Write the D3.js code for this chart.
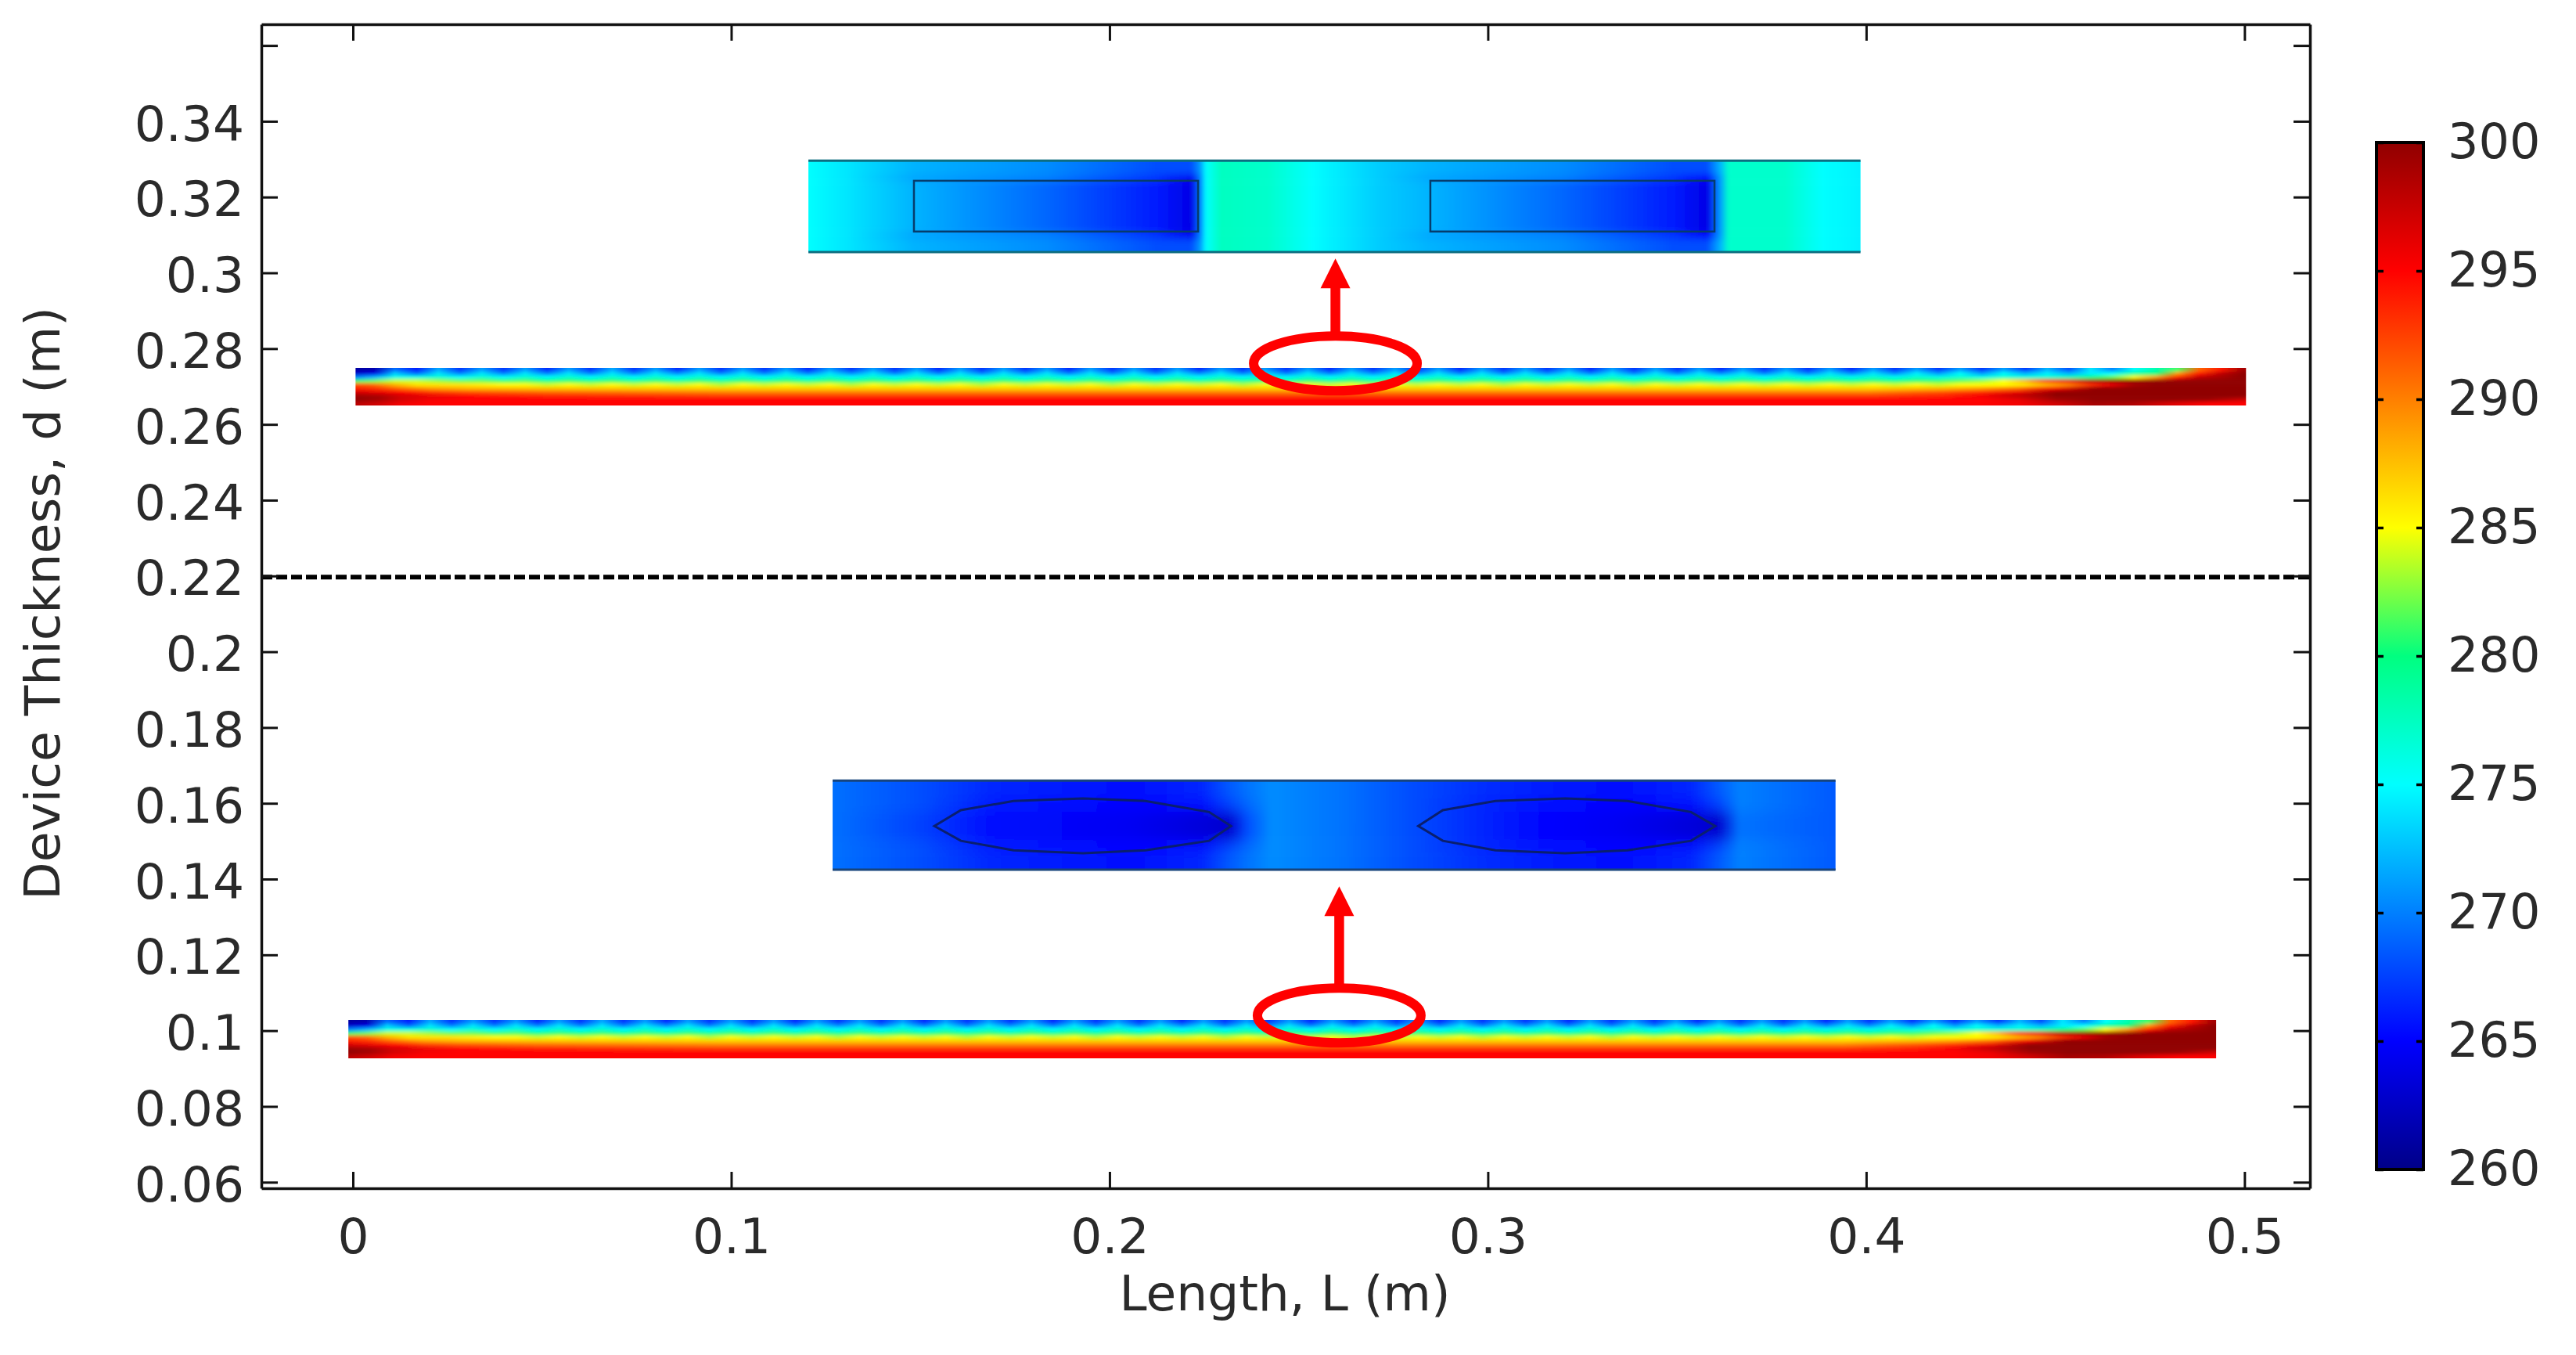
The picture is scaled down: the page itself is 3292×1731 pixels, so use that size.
<!DOCTYPE html>
<html>
<head>
<meta charset="utf-8">
<script src="https://cdn.jsdelivr.net/npm/d3@7"></script>
<style>
    html, body { margin: 0; padding: 0; background: #fff; }
    svg { display: block; }
    text { font-family: "DejaVu Sans", sans-serif; fill: #2a2a2a; }
</style>
</head>
<body>
<script>
// axis ticks
const xTicks = [0, 0.1, 0.2, 0.3, 0.4, 0.5];
const yTicks = [0.06, 0.08, 0.1, 0.12, 0.14, 0.16, 0.18, 0.2, 0.22, 0.24, 0.26, 0.28, 0.3, 0.32, 0.34, 0.36];
const yTickLabels = ["0.06", "0.08", "0.1", "0.12", "0.14", "0.16", "0.18", "0.2", "0.22", "0.24", "0.26", "0.28", "0.3", "0.32", "0.34", ""];
const barTicks = [260, 265, 270, 275, 280, 285, 290, 295, 300];

// colour table of the temperature bar
const jetTemps = [260, 265, 275, 280, 285, 295, 300];
const jetColors = ["#000088", "#0000ff", "#00ffff", "#00ff80", "#ffff00", "#ff0000", "#900000"];

// strip, temperature along the length. Upper rows have the mesh sawtooth, so two values per mesh cell
const sawStep = 0.00575;
const row0 = [261, 261.5, 269, 266, 271.5, 267, 271, 267, 271, 266.5, 271, 267, 271.5, 267, 271, 266.5, 271, 267, 271, 267,
    271, 266.5, 271, 267, 271, 267, 271, 266.5, 271, 267, 271, 267, 271, 266.5, 271, 267, 271, 267, 271, 266.5,
    271, 267, 271, 267, 271, 266.5, 271, 267, 271, 267, 271, 266.5, 271, 267, 271, 267, 271, 266.5, 271, 267,
    271, 267, 271, 266.5, 271, 267, 271, 267, 271, 266.5, 271, 267, 271, 267, 271, 267, 271, 267, 272, 268,
    274, 270, 275, 278, 281, 291, 294, 299];
const row1 = [263, 264, 273, 269, 274, 270, 274, 270, 274, 270, 274, 270, 274, 270, 274, 270.5, 274, 270, 274, 270,
    274, 270, 274, 270.5, 274, 270, 274, 270, 274, 270, 274, 270.5, 274, 270, 274, 270, 274, 270, 274, 270.5,
    274, 270, 274, 270, 274, 270, 274, 270.5, 274, 270, 274, 270, 274, 270, 274, 270.5, 274, 270, 274, 270,
    274, 270, 274, 270.5, 274, 270, 274, 270, 274, 270.5, 274, 270.5, 274.5, 271, 275, 271, 275, 272, 274.5, 272,
    274.5, 275, 279, 280, 289, 294, 298, 300];
const row2 = [270, 272, 276, 276, 277, 275, 277, 275, 277, 275, 277, 275, 277, 275, 277, 275, 277, 275, 277, 275,
    277, 275, 277, 275, 277, 275, 277, 275, 277, 275, 277, 275, 277, 275, 277, 275, 277, 275, 277, 275,
    277, 275, 277, 275, 277, 275, 277, 275, 277, 275, 277, 275, 277, 275, 277, 275, 277, 275, 277, 275,
    277, 275, 277, 275, 277, 275, 277, 275, 277, 275.5, 277, 275.5, 277, 276, 277, 276, 277, 276.5, 277, 278,
    280, 282, 285, 289, 294, 298, 299, 300];
const row3 = [281, 282, 284, 284, 283, 282, 282, 281, 281.5, 280, 281, 280, 281, 279.5, 281, 279.5, 281, 279.5, 281, 279.5,
    281, 279.5, 281, 279.5, 281, 279.5, 281, 279.5, 281, 279.5, 281, 279.5, 281, 279.5, 281, 279.5, 281, 279.5, 281, 279.5,
    281, 279.5, 281, 279.5, 281, 279.5, 281, 279.5, 281, 279.5, 281, 279.5, 281, 279.5, 281, 279.5, 281, 279.5, 281, 279.5,
    281, 279.5, 281, 279.5, 281, 279.5, 281, 280, 281, 280, 281, 280, 281, 281, 282, 283,
    285, 288, 293, 296, 299, 300, 300, 300];
const row4 = [292, 291, 288, 286, 286, 286, 285.5, 285, 285, 284, 285, 284, 285, 284, 285, 284, 285, 283.5, 285, 284,
    285, 284, 285, 283.5, 285, 284, 285, 284, 285, 283.5, 285, 284, 285, 284, 285, 283.5, 285, 284, 285, 284,
    285, 283.5, 285, 284, 285, 284, 285, 283.5, 285, 284, 285, 284, 285, 283.5, 285, 284, 285, 284, 285, 283.5,
    285, 284, 285, 284, 285, 284, 285, 284, 285, 284, 285, 284, 285, 284, 285, 285, 285, 286, 288, 290,
    293, 296, 299, 300, 300, 300, 300, 300];

// lower rows of the strip change slowly, they are read at these lengths
const coarsePos = [0, 0.006, 0.012, 0.02, 0.03, 0.05, 0.1, 0.2, 0.3, 0.4, 0.42, 0.43, 0.44, 0.45, 0.46, 0.47, 0.48, 0.49, 0.5];
const row5 = [294, 293, 291, 289, 288, 287.5, 287, 287, 287, 287, 288, 289, 291, 295.5, 300, 300, 300, 300, 300];
const row6 = [297, 296, 295, 293, 292, 291, 290, 290, 290, 290, 292, 293.5, 296, 300, 300, 300, 300, 300, 300];
const row7 = [299.5, 299, 297, 296, 295, 294, 293, 293, 293, 293, 294, 295.5, 298, 300, 300, 300, 300, 300, 300];
const row8 = [300, 299, 297, 295.5, 295, 295, 295, 295, 295, 295, 295, 295, 296, 299, 300, 300, 300, 299.5, 297];
const row9 = [298, 297, 295.5, 295, 295, 295, 295, 295, 295, 295, 295, 295, 295.5, 297, 299, 298.5, 296.5, 295, 295];

// zoomed views. Temperature along the length, per band of the view
const topViewPos = [0.1204, 0.1307, 0.1483, 0.1835, 0.2126, 0.2215, 0.2240, 0.2255, 0.2294, 0.242, 0.2536,
    0.2712, 0.2848, 0.32, 0.3493, 0.3578, 0.3614, 0.3636, 0.3785, 0.3884, 0.3985];
const topViewOuter = [275, 274, 272, 270.5, 268, 268, 271, 275, 277.5, 277, 275, 273, 272, 270.5, 268, 268, 272, 277, 277, 275, 274.5];
const topViewNear = [275, 274, 271.5, 270, 267, 264.5, 270, 275, 277.5, 277, 275, 273, 271.5, 270, 267, 265, 271, 277, 277, 275, 274.5];
const topViewInner = [275, 274, 272, 269, 266, 264, 270, 275, 277.5, 277, 275, 273, 272, 269, 266, 264, 271, 277, 277, 275, 274.5];

const lowViewPos = [0.1268, 0.1505, 0.169, 0.2058, 0.2244, 0.2316, 0.2364, 0.2428, 0.2612, 0.2798, 0.2982,
    0.3166, 0.3351, 0.3537, 0.3609, 0.3665, 0.3919];
const lowViewOuter = [269.4, 268, 266.5, 265.5, 266.5, 268.5, 269.5, 270.5, 269.5, 268, 266.8, 266, 265.5, 266.5, 268.5, 270, 268.5];
const lowViewNear = [269.4, 268, 266, 265, 265.5, 267.5, 269, 270.5, 269.5, 268, 266.5, 265.5, 265, 265.5, 267.5, 270, 268.5];
const lowViewInner = [269.4, 267.5, 265.5, 264.5, 263.5, 263, 268, 270.5, 269.5, 268, 266.5, 265, 264.5, 263.5, 263, 269.5, 268.5];

// the two solid shapes drawn inside the zoomed views
const rectLeftX = [0.1483, 0.2234];
const rectRightX = [0.2848, 0.3599];
const rectY = [0.3243, 0.3109];
const lensLeftX = [0.1537, 0.1607, 0.1746, 0.193, 0.2095, 0.2263, 0.2321, 0.2263, 0.2095, 0.193, 0.1746, 0.1607];
const lensRightX = [0.2816, 0.2881, 0.302, 0.3204, 0.3369, 0.3537, 0.3601, 0.3537, 0.3369, 0.3204, 0.302, 0.2881];
const lensY = [0.154, 0.1582, 0.1606, 0.1613, 0.1606, 0.1577, 0.154, 0.1501, 0.1476, 0.1468, 0.1476, 0.1501];

const width = 3292;
const height = 1731;

const x = d3.scaleLinear().domain([-0.0242, 0.5173]).range([334, 2952]);
const y = d3.scaleLinear().domain([0.0584, 0.3656]).range([1518, 31]);
const barY = d3.scaleLinear().domain([260, 300]).range([1494, 182]);
const color = d3.scaleLinear().domain(jetTemps).range(jetColors);

const svg = d3.select("body").append("svg")
    .attr("width", width)
    .attr("height", height)
    .attr("viewBox", "0 0 " + width + " " + height);
const defs = svg.append("defs");

const sawPos = d3.range(row0.length).map(i => i * sawStep - 0.0011);
const stripRows = [
    [sawPos, row0], [sawPos, row1], [sawPos, row2], [sawPos, row3], [sawPos, row4],
    [coarsePos, row5], [coarsePos, row6], [coarsePos, row7], [coarsePos, row8], [coarsePos, row9]
];
const stripEdges = d3.range(stripRows.length + 1).map(i => i / stripRows.length);

// every band of a field is one rect with a horizontal gradient, the bands are blurred together
function drawField(id, box, posDomain, rows, edges, blur) {
    let left = x(box.x0), right = x(box.x1), top = y(box.top), bottom = y(box.bottom);
    let along = d3.scaleLinear().domain(posDomain).range([0, 1]);
    let rowY = d3.scaleLinear().domain([0, 1]).range([top, bottom]);

    defs.append("clipPath").attr("id", id + "-clip")
        .append("rect")
        .attr("x", left).attr("y", top)
        .attr("width", right - left).attr("height", bottom - top);
    defs.append("filter").attr("id", id + "-blur")
        .attr("filterUnits", "userSpaceOnUse")
        .attr("x", left - 40).attr("y", top - 40)
        .attr("width", right - left + 80).attr("height", bottom - top + 80)
        .append("feGaussianBlur").attr("stdDeviation", blur);

    let group = svg.append("g").attr("clip-path", "url(#" + id + "-clip)")
        .append("g").attr("filter", "url(#" + id + "-blur)");

    rows.forEach((row, i) => {
        let grad = defs.append("linearGradient").attr("id", id + "-row" + i)
            .attr("gradientUnits", "userSpaceOnUse")
            .attr("x1", left).attr("x2", right).attr("y1", 0).attr("y2", 0);
        grad.selectAll("stop").data(row[1]).join("stop")
            .attr("offset", (d, j) => Math.min(1, Math.max(0, along(row[0][j]))))
            .attr("stop-color", d => color(d));
        let y0 = i === 0 ? top - 30 : rowY(edges[i]);
        let y1 = i === rows.length - 1 ? bottom + 30 : rowY(edges[i + 1]) + 0.5;
        group.append("rect")
            .attr("x", left - 30).attr("y", y0)
            .attr("width", right - left + 60).attr("height", y1 - y0)
            .attr("fill", "url(#" + id + "-row" + i + ")");
    });
}

drawField("strip-top", {x0: 0.0007, x1: 0.5004, top: 0.2749, bottom: 0.265}, [0, 0.5], stripRows, stripEdges, "1 2");
drawField("strip-low", {x0: -0.0012, x1: 0.4925, top: 0.1028, bottom: 0.0927}, [0, 0.5], stripRows, stripEdges, "1 2");

const topBox = {x0: 0.1204, x1: 0.3985, top: 0.3296, bottom: 0.3055};
drawField("view-top", topBox, [topBox.x0, topBox.x1],
    [[topViewPos, topViewOuter], [topViewPos, topViewNear], [topViewPos, topViewInner], [topViewPos, topViewNear], [topViewPos, topViewOuter]],
    [0, 0.15, 0.23, 0.78, 0.86, 1], "2.5 5");

const lowBox = {x0: 0.1268, x1: 0.3919, top: 0.1660, bottom: 0.1425};
drawField("view-low", lowBox, [lowBox.x0, lowBox.x1],
    [[lowViewPos, lowViewOuter], [lowViewPos, lowViewNear], [lowViewPos, lowViewInner], [lowViewPos, lowViewNear], [lowViewPos, lowViewOuter]],
    [0, 0.2, 0.35, 0.67, 0.8, 1], "4 8");

// edge lines of the zoomed views
[[topBox, "#0d6d80"], [lowBox, "#17447c"]].forEach(([box, stroke]) => {
    [box.top, box.bottom].forEach(v => {
        svg.append("line")
            .attr("x1", x(box.x0)).attr("x2", x(box.x1))
            .attr("y1", y(v)).attr("y2", y(v))
            .attr("stroke", stroke).attr("stroke-width", 3);
    });
});

// rectangles and lens shapes
[rectLeftX, rectRightX].forEach(d => {
    svg.append("rect")
        .attr("x", x(d[0])).attr("y", y(rectY[0]))
        .attr("width", x(d[1]) - x(d[0])).attr("height", y(rectY[1]) - y(rectY[0]))
        .attr("fill", "none").attr("stroke", "#063c6c").attr("stroke-width", 2.5);
});
const lensLine = d3.line().x(d => x(d[0])).y(d => y(d[1])).curve(d3.curveLinearClosed);
[lensLeftX, lensRightX].forEach(xs => {
    svg.append("path")
        .attr("d", lensLine(xs.map((v, i) => [v, lensY[i]])))
        .attr("fill", "none").attr("stroke", "#0a1f6e").attr("stroke-width", 3);
});

// dashed limit line
svg.append("line")
    .attr("x1", x.range()[0]).attr("x2", x.range()[1])
    .attr("y1", y(0.2197)).attr("y2", y(0.2197))
    .attr("stroke", "#000").attr("stroke-width", 6)
    .attr("stroke-dasharray", "14 5");

// axes, on all four sides with the ticks pointing in
function styleAxis(g) {
    g.selectAll(".domain").attr("stroke", "#111").attr("stroke-width", 3.5);
    g.selectAll(".tick line").attr("stroke", "#111").attr("stroke-width", 3);
    g.selectAll("text").style("font-size", "63px").attr("fill", "#2a2a2a");
}
const fmtX = d => d === 0 ? "0" : String(d);

svg.append("g").attr("transform", "translate(0," + y.range()[0] + ")")
    .call(d3.axisBottom(x).tickValues(xTicks).tickFormat(fmtX).tickSizeInner(-21).tickSizeOuter(0).tickPadding(38))
    .call(styleAxis);
svg.append("g").attr("transform", "translate(0," + y.range()[1] + ")")
    .call(d3.axisTop(x).tickValues(xTicks).tickFormat("").tickSizeInner(-21).tickSizeOuter(0))
    .call(styleAxis);
svg.append("g").attr("transform", "translate(" + x.range()[0] + ",0)")
    .call(d3.axisLeft(y).tickValues(yTicks).tickFormat((d, i) => yTickLabels[i]).tickSizeInner(-21).tickSizeOuter(0).tickPadding(22))
    .call(styleAxis)
    .call(g => g.selectAll("text").attr("transform", "translate(0,4)"));
svg.append("g").attr("transform", "translate(" + x.range()[1] + ",0)")
    .call(d3.axisRight(y).tickValues(yTicks).tickFormat("").tickSizeInner(-21).tickSizeOuter(0))
    .call(styleAxis);

svg.append("text")
    .attr("x", 1642).attr("y", 1674)
    .attr("text-anchor", "middle")
    .style("font-size", "63px")
    .text("Length, L (m)");
svg.append("text")
    .attr("transform", "translate(76,771) rotate(-90)")
    .attr("text-anchor", "middle")
    .style("font-size", "63px")
    .text("Device Thickness, d (m)");

// red ellipse and arrow markers
const markers = [
    {cx: 0.2597, cy: 0.2761, tip: 0.3038},
    {cx: 0.2607, cy: 0.104, tip: 0.1381}
];
const markerRx = 104.5;
const markerRy = 35;
markers.forEach(m => {
    svg.append("ellipse")
        .attr("cx", x(m.cx)).attr("cy", y(m.cy))
        .attr("rx", markerRx).attr("ry", markerRy)
        .attr("fill", "none").attr("stroke", "#ff0000").attr("stroke-width", 12);
    let tx = x(m.cx), ty = y(m.tip);
    svg.append("line")
        .attr("x1", tx).attr("x2", tx)
        .attr("y1", ty + 30).attr("y2", y(m.cy) - markerRy)
        .attr("stroke", "#ff0000").attr("stroke-width", 12.5);
    svg.append("path")
        .attr("d", d3.line()([[tx, ty], [tx + 19, ty + 38], [tx - 19, ty + 38]]) + "Z")
        .attr("fill", "#ff0000");
});

// colour bar
const barLeft = 3037, barRight = 3097;
const barGrad = defs.append("linearGradient").attr("id", "bar-grad")
    .attr("x1", 0).attr("x2", 0).attr("y1", 1).attr("y2", 0);
barGrad.selectAll("stop").data(jetTemps).join("stop")
    .attr("offset", d => (d - 260) / 40)
    .attr("stop-color", d => color(d));
svg.append("rect")
    .attr("x", barLeft).attr("y", barY(300))
    .attr("width", barRight - barLeft).attr("height", barY(260) - barY(300))
    .attr("fill", "url(#bar-grad)")
    .attr("stroke", "#000").attr("stroke-width", 4);
const barAxis = svg.append("g").attr("transform", "translate(" + barRight + ",0)")
    .call(d3.axisRight(barY).tickValues(barTicks).tickSizeInner(-9).tickSizeOuter(0).tickPadding(31));
barAxis.select(".domain").remove();
barAxis.selectAll(".tick line").attr("stroke", "#000").attr("stroke-width", 3.5);
barAxis.selectAll("text").style("font-size", "62px").attr("fill", "#2a2a2a");
svg.append("g").attr("transform", "translate(" + barLeft + ",0)")
    .call(d3.axisLeft(barY).tickValues(barTicks).tickFormat("").tickSizeInner(-9).tickSizeOuter(0))
    .call(g => g.select(".domain").remove())
    .selectAll(".tick line").attr("stroke", "#000").attr("stroke-width", 3.5);
</script>
</body>
</html>
